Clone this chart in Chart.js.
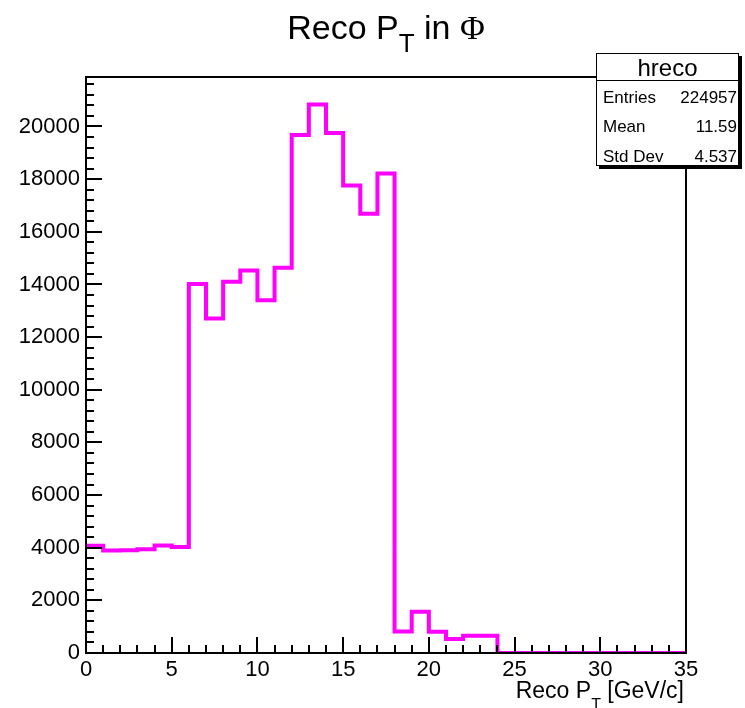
<!DOCTYPE html>
<html><head><meta charset="utf-8">
<script src="https://cdn.jsdelivr.net/npm/chart.js@4.4.0/dist/chart.umd.min.js"></script>
<style>
html,body{margin:0;padding:0;background:#fff;}
#wrap{position:relative;width:745px;height:708px;overflow:hidden;font-family:"Liberation Sans",Arial,Helvetica,sans-serif;color:#000;}
canvas{position:absolute;left:0;top:0;}
.t{position:absolute;white-space:nowrap;line-height:1;}
</style></head><body>
<div id="wrap">
<canvas id="c" width="745" height="708"></canvas>
<div class="t" style="left:86px;width:600px;text-align:center;top:10px;font-size:34px;">Reco P<span style="font-size:26px;position:relative;top:13px;">T</span> in <span style="font-family:'Liberation Serif',serif;">Φ</span></div>
<div style="position:absolute;left:596px;top:53px;width:143px;height:113px;box-sizing:border-box;border:1px solid #000;box-shadow:3px 3px 0 #000;background:#fff;"></div>
<div style="position:absolute;left:596px;top:80px;width:143px;height:1px;background:#000;"></div>
<div class="t" style="left:596px;width:143px;text-align:center;top:56px;font-size:24px;">hreco</div>
<div class="t" style="left:603px;top:89px;font-size:17px;">Entries</div>
<div class="t" style="left:603px;top:118px;font-size:17px;">Mean</div>
<div class="t" style="left:603px;top:148px;font-size:17px;">Std Dev</div>
<div class="t" style="left:640px;width:97px;text-align:right;top:89px;font-size:17px;">224957</div>
<div class="t" style="left:640px;width:97px;text-align:right;top:118px;font-size:17px;">11.59</div>
<div class="t" style="left:640px;width:97px;text-align:right;top:148px;font-size:17px;">4.537</div>
<div class="t" style="left:400px;width:284px;text-align:right;top:679px;font-size:23px;">Reco P<span style="font-size:16px;position:relative;top:12px;">T</span> [GeV/c]</div>
</div>
<script>
// Histogram "hreco": bin edges (GeV/c) and bin contents
const binEdges = [0,1,2,3,4,5,6,7,8,9,10,11,12,13,14,15,16,17,18,19,20,21,22,23,24,25,26,27,28,29,30,31,32,33,34,35];
const counts = [4070,3890,3900,3940,4080,4030,
                14020,12710,14100,14530,13400,14630,
                19680,20840,19750,17760,16690,18210,
                820,1570,810,530,660,660,
                0,0,0,0,0,0,0,0,0,0,0];
const xTicks = [0,5,10,15,20,25,30,35];
const yTicks = [0,2000,4000,6000,8000,10000,12000,14000,16000,18000,20000];
const xMin = 0, xMax = 35, yMin = 0, yMax = 21880;
const xMinorStep = 1, yMinorStep = 400;

const points = counts.map((c, i) => ({x: binEdges[i], y: c}));
points.push({x: binEdges[binEdges.length - 1], y: counts[counts.length - 1]});

const framePlugin = {
  id: 'frame',
  afterDatasetsDraw(chart) {
    const {ctx, chartArea: a, scales: {x, y}} = chart;
    ctx.save();
    ctx.strokeStyle = '#000';
    ctx.lineWidth = 2;
    ctx.lineCap = 'butt';
    ctx.beginPath();
    for (let v = xMin; v <= xMax + 1e-9; v += xMinorStep) {
      const px = Math.round(x.getPixelForValue(v));
      const major = xTicks.includes(Math.round(v * 1000) / 1000);
      const len = major ? 16 : 8;
      ctx.moveTo(px, a.bottom);
      ctx.lineTo(px, a.bottom - len);
    }
    for (let v = yMin; v <= yMax + 1e-9; v += yMinorStep) {
      const py = Math.round(y.getPixelForValue(v));
      const major = yTicks.includes(v);
      const len = major ? 16 : 8;
      ctx.moveTo(a.left, py);
      ctx.lineTo(a.left + len, py);
    }
    ctx.stroke();
    ctx.strokeRect(a.left, a.top, a.right - a.left, a.bottom - a.top);
    ctx.restore();
  }
};

new Chart(document.getElementById('c'), {
  type: 'line',
  data: {
    datasets: [{
      label: 'hreco',
      data: points,
      stepped: 'before',
      borderColor: '#ff00ff',
      borderWidth: 4,
      borderJoinStyle: 'miter',
      borderCapStyle: 'butt',
      pointRadius: 0,
      fill: false,
      tension: 0
    }]
  },
  options: {
    responsive: false,
    animation: false,
    events: [],
    layout: {padding: {top: 77, right: 59, left: 0, bottom: 0}},
    plugins: {legend: {display: false}, tooltip: {enabled: false}, title: {display: false}},
    scales: {
      x: {
        type: 'linear', min: xMin, max: xMax,
        grid: {display: false, drawTicks: false},
        border: {display: false},
        ticks: {color: '#000', font: {family: 'Liberation Sans', size: 22}, padding: 4, maxRotation: 0, autoSkip: false,
                callback: v => String(v)},
        afterBuildTicks: s => { s.ticks = xTicks.map(v => ({value: v})); },
        afterFit: s => { s.height = 55; }
      },
      y: {
        type: 'linear', min: yMin, max: yMax,
        grid: {display: false, drawTicks: false},
        border: {display: false},
        ticks: {color: '#000', font: {family: 'Liberation Sans', size: 22}, padding: 6, autoSkip: false,
                callback: v => String(v)},
        afterBuildTicks: s => { s.ticks = yTicks.map(v => ({value: v})); },
        afterFit: s => { s.width = 86; }
      }
    }
  },
  plugins: [framePlugin]
});
</script>
</body></html>
